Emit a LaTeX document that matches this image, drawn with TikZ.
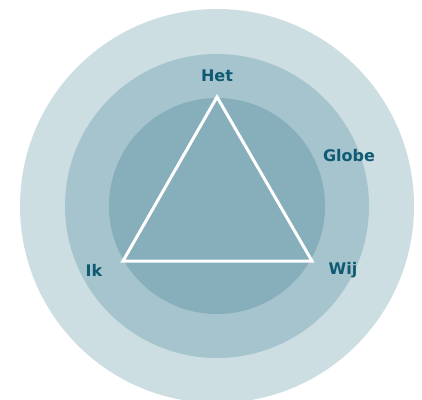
\documentclass[tikz,border=0pt]{standalone}
\usepackage{fontspec}
\newfontfamily\labelfont{DejaVu Sans}
\definecolor{ringout}{HTML}{CDDEE2}
\definecolor{ringmid}{HTML}{A6C4CD}
\definecolor{ringin}{HTML}{86AEBB}
\definecolor{labelteal}{HTML}{0F5A73}
\tikzset{
    lbl/.style={font=\labelfont\bfseries\fontsize{16}{18}\selectfont, text=labelteal, inner sep=0pt}
}
\begin{document}
\begin{tikzpicture}[x=1pt, y=-1pt]
    % 枠
    \useasboundingbox (0,0) rectangle (422,399);
    \clip (0,0) rectangle (422,399);
    % 同心円
    \fill[ringout] (217,206) circle (197);
    \fill[ringmid] (217,206) circle (152);
    \fill[ringin] (217,206) circle (108);
    % 三角形の頂点
    \coordinate (top) at (217,97);
    \coordinate (left) at (123,261);
    \coordinate (right) at (312,261);
    \draw[white, line width=3pt, line join=miter] (top) -- (left) -- (right) -- cycle;
    % ラベル
    \node[lbl] (het) at (217,76) {Het};
    \node[lbl] (globe) at (349,156) {Globe};
    \node[lbl] (ik) at (94,270) {Ik};
    \node[lbl] (wij) at (343,270) {Wij};
\end{tikzpicture}
\end{document}
